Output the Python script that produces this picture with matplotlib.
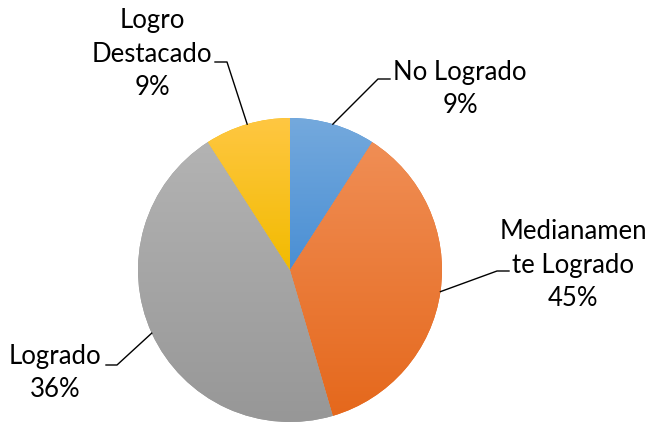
import numpy as np
import matplotlib
matplotlib.use('Agg')
import matplotlib.pyplot as plt
from matplotlib.colors import LinearSegmentedColormap

# data
categories = ["No Logrado", "Medianamente Logrado", "Logrado", "Logro Destacado"]
values = [1, 4, 5, 1]
label_texts = ["No Logrado\n9%", "Medianamen\nte Logrado\n45%", "Logrado\n36%", "Logro\nDestacado\n9%"]
top_colors = ["#74A9DD", "#F08E55", "#B3B3B3", "#FFC742"]
bottom_colors = ["#4A8FD4", "#E5681C", "#979797", "#F2BB00"]

plt.rcParams['font.family'] = ['Lato', 'DejaVu Sans']

W, H = 647, 428
fig = plt.figure(figsize=(W / 100, H / 100), dpi=100)
ax = fig.add_axes([0, 0, 1, 1])
R = 152.0
cx, cy = 290, 270
ax.axis('off')

def px(x, y):
    return (x - cx) / R, (cy - y) / R

wedges, _ = ax.pie(values, startangle=90, counterclock=False, radius=1,
                   colors=bottom_colors, wedgeprops=dict(linewidth=0))

# gradient fill per slice
for w, c0, c1 in zip(wedges, top_colors, bottom_colors):
    cmap = LinearSegmentedColormap.from_list('g', [c1, c0])
    bb = w.get_path().get_extents(w.get_patch_transform())
    grad = np.linspace(0, 1, 256).reshape(-1, 1)
    im = ax.imshow(grad, cmap=cmap, origin='lower', aspect='auto',
                   extent=[bb.x0, bb.x1, bb.y0, bb.y1], zorder=2)
    im.set_clip_path(w)
ax.set_xlim(-cx / R, (W - cx) / R)
ax.set_ylim(-(H - cy) / R, cy / R)

# label layout: text center (px), leader end (px), knee (px)
text_pos = [(460, 89), (573, 265), (55, 373), (152, 54)]
elbow = [(390, 79), (509, 271), (106, 365), (215, 62)]
knee = [(378, 79), (497, 271), (117, 365), (227, 62)]

for w, txt, tp, e, k in zip(wedges, label_texts, text_pos, elbow, knee):
    mid = np.deg2rad((w.theta1 + w.theta2) / 2)
    x0, y0 = np.cos(mid), np.sin(mid)
    ex, ey = px(*e)
    kx, ky = px(*k)
    ax.plot([x0, kx, ex], [y0, ky, ey], color='black', lw=1.0, zorder=3)
    tx, ty = px(*tp)
    ax.text(tx, ty, txt, ha='center', va='center', fontsize=18.5,
            linespacing=1.42, color='black', zorder=4)

fig.savefig('out.png', dpi=100)
